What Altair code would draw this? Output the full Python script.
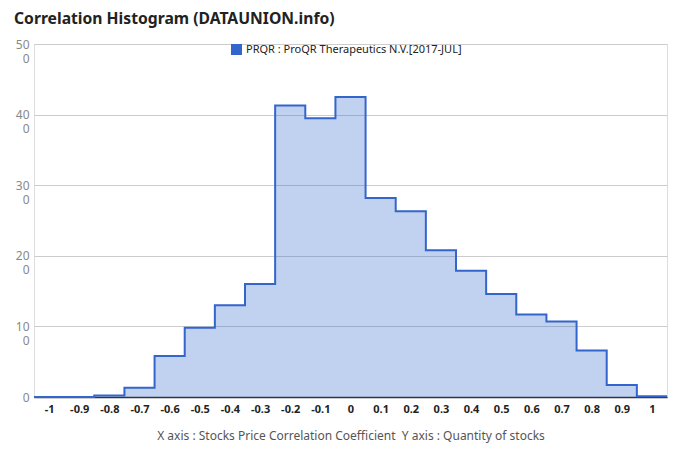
import altair as alt
import pandas as pd

# bin centers (correlation coefficient) and counts
centers = [-1.0, -0.9, -0.8, -0.7, -0.6, -0.5, -0.4, -0.3, -0.2, -0.1, 0.0,
           0.1, 0.2, 0.3, 0.4, 0.5, 0.6, 0.7, 0.8, 0.9, 1.0]
counts = [0, 0, 2, 13, 58, 98, 130, 160, 413, 395, 425,
          282, 263, 208, 179, 146, 117, 107, 66, 17, 1]
x_ticks = [i / 10 for i in range(-10, 11)]
y_ticks = [0, 100, 200, 300, 400, 500]
series = "PRQR : ProQR Therapeutics N.V.[2017-JUL]"

edges = [round(c - 0.05, 2) for c in centers] + [round(centers[-1] + 0.05, 2)]
vals = counts + [counts[-1]]
df = pd.DataFrame({"x": edges, "y": vals, "s": series})

base = alt.Chart(df)

x_enc = alt.X("x:Q",
              scale=alt.Scale(domain=[-1.05, 1.05], nice=False, zero=False),
              axis=alt.Axis(values=x_ticks, grid=False, ticks=False,
                            labelExpr="replace(format(datum.value, '.1~f'), '−', '-')",
                            labelOverlap=False, labelFlush=False,
                            labelFontWeight="bold", labelColor="#222", labelFontSize=11,
                            labelPadding=6, domainColor="#333", domainWidth=1.5,
                            title="X axis : Stocks Price Correlation Coefficient\u00a0 Y axis : Quantity of stocks",
                            titleFontWeight="normal", titleColor="#555", titleFontSize=12,
                            titlePadding=16))
y_enc = alt.Y("y:Q",
              scale=alt.Scale(domain=[0, 500], nice=False),
              axis=alt.Axis(values=y_ticks, domain=False, ticks=False, grid=True,
                            labelOverlap=False, labelFlush=False,
                            gridColor="#cccccc", labelColor="#888", labelFontSize=12,
                            labelPadding=5, labelLineHeight=14,
                            labelExpr="datum.value == 0 ? '0' : [slice(datum.label, 0, 2), slice(datum.label, 2)]",
                            title=None))

area = base.mark_area(interpolate="step-after", opacity=0.3).encode(
    x=x_enc, y=y_enc,
    color=alt.Color("s:N", scale=alt.Scale(range=["#3366cc"]),
                    legend=alt.Legend(title=None, orient="none", legendX=197, legendY=0,
                                      symbolType="square", symbolSize=121,
                                      symbolOpacity=1, symbolStrokeWidth=0,
                                      labelFontSize=11, labelColor="#222", labelLimit=0,
                                      labelFont="Noto Sans"))
)
line = base.mark_line(interpolate="step-after", color="#3366cc", strokeWidth=2).encode(
    x=x_enc, y=y_enc
)

chart = (area + line).properties(
    width=633, height=353,
    autosize="none",
    padding={"left": 26, "top": 36, "right": 5, "bottom": 57},
    title=alt.TitleParams("Correlation Histogram (DATAUNION.info)", anchor="start",
                          frame="group", dx=-20, offset=10, fontSize=15.7,
                          fontWeight="bold", color="#222", font="Noto Sans"),
).configure_view(stroke=None).configure(font="Noto Sans")

chart.save("out.html", embed_options={"renderer": "svg", "actions": False})
